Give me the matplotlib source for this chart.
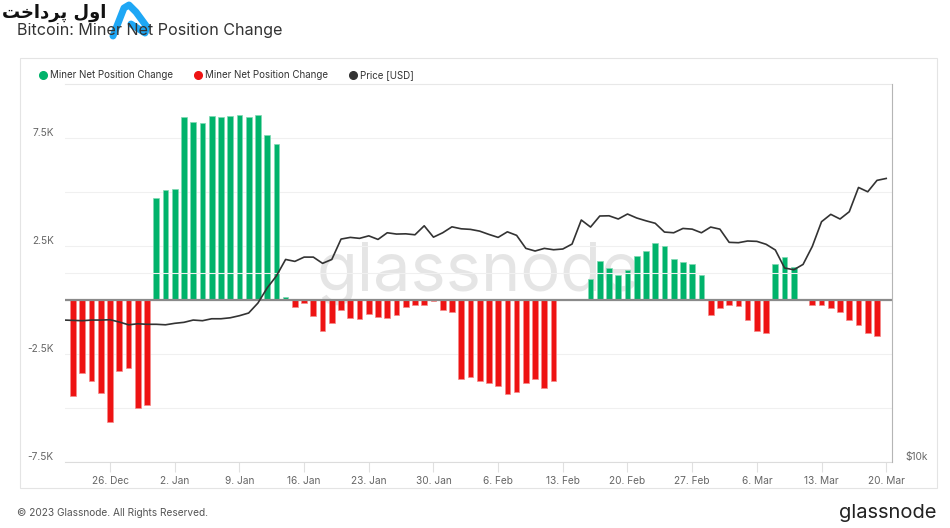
"""Bitcoin: Miner Net Position Change (glassnode style)."""

import pandas as pd
import matplotlib.pyplot as plt
import matplotlib.dates as mdates
from matplotlib.lines import Line2D
from matplotlib.patches import Rectangle
from matplotlib.ticker import FixedLocator, NullLocator

plt.rcParams['font.family'] = ['Inter', 'DejaVu Sans']

# daily miner net position change (BTC), starting 22 Dec 2022
net_start = '2022-12-22'
net_change = [
    -4440, -3360, -3750, -4290, -5630, -3270, -3150, -5020, -4860, 4720,
    5080, 5140, 8470, 8260, 8210, 8520, 8470, 8520, 8580, 8470,
    8550, 7620, 7220, 150, -340, -150, -730, -1420, -1050, -450,
    -820, -870, -630, -780, -820, -690, -340, -220, -220, -50,
    -450, -540, -3670, -3550, -3750, -3850, -3960, -4330, -4280, -3820,
    -3660, -4090, -3770, 30, 30, 30, 990, 1810, 1470, 1140,
    1400, 2040, 2250, 2650, 2500, 1900, 1760, 1660, 1140, -710,
    -390, -230, -280, -930, -1420, -1510, 1670, 2000, 1530, 30,
    -250, -250, -360, -560, -930, -1140, -1510, -1650,
]

# daily BTC price (USD), starting 21 Dec 2022
price_start = '2022-12-21'
price = [
    16830, 16810, 16790, 16830, 16830, 16850, 16710, 16540, 16600, 16570,
    16570, 16540, 16630, 16690, 16830, 16790, 16910, 16910, 16970, 17100,
    17270, 17910, 18930, 19780, 21020, 20870, 21200, 21200, 20720, 21020,
    22650, 22790, 22710, 22920, 22620, 23180, 23070, 23090, 23010, 23780,
    22810, 23180, 23690, 23520, 23470, 23320, 23040, 22790, 23260, 22960,
    21890, 21680, 21890, 21780, 21840, 22240, 24290, 23670, 24650, 24670,
    24380, 24830, 24470, 24220, 24000, 23240, 23180, 23550, 23490, 23180,
    23670, 23490, 22380, 22350, 22490, 22460, 22220, 21760, 20370, 20240,
    20640, 22050, 24140, 24800, 24380, 25040, 27370, 26940, 28090, 28290,
]

x_ticks = ['2022-12-26', '2023-01-02', '2023-01-09', '2023-01-16', '2023-01-23',
           '2023-01-30', '2023-02-06', '2023-02-13', '2023-02-20', '2023-02-27',
           '2023-03-06', '2023-03-13', '2023-03-20']
y_ticks = [-7500, -5000, -2500, 0, 2500, 5000, 7500]
y_labels = ['-7.5K', '', '-2.5K', '', '2.5K', '', '7.5K']

GREEN = '#00b36b'
RED = '#ee1313'
GRID = '#f0f0f0'
TICK_TXT = '#666666'

net_dates = pd.date_range(net_start, periods=len(net_change), freq='D')
price_dates = pd.date_range(price_start, periods=len(price), freq='D')
pos = [v if v > 0 else 0 for v in net_change]
neg = [v if v < 0 else 0 for v in net_change]

fig = plt.figure(figsize=(9.5, 5.28), dpi=100)
W, H = 950, 528

# outer frame of the chart card
fig.add_artist(Rectangle((20 / W, 1 - 488 / H), 917 / W, 430 / H, transform=fig.transFigure,
                         fill=False, edgecolor='#e4e4e4', lw=0.8))

ax = fig.add_axes([65 / W, 1 - 462 / H, (892 - 65) / W, (462 - 84) / H])
ax.bar(net_dates, pos, width=0.62, color=GREEN, edgecolor='#7fd9b3', lw=0.5, zorder=2)
ax.bar(net_dates, neg, width=0.62, color=RED, edgecolor='#f58a8a', lw=0.5, zorder=2)
ax.axhline(0, color='#8a8a8a', lw=1.6, zorder=3)

ax.set_ylim(-7500, 10000)
ax.set_xlim(pd.Timestamp('2022-12-21 03:00'), pd.Timestamp('2023-03-20 15:00'))
ax.yaxis.set_major_locator(FixedLocator(y_ticks))
ax.set_yticklabels(y_labels)
ax.set_xticks(pd.to_datetime(x_ticks))
ax.xaxis.set_major_formatter(mdates.DateFormatter('%-d. %b'))
ax.grid(axis='y', color=GRID, lw=0.8, zorder=0)
ax.tick_params(axis='y', length=0, labelsize=7.3, labelcolor=TICK_TXT, pad=8)
ax.tick_params(axis='x', length=7, color='#e0e0e0', labelsize=7.3, labelcolor=TICK_TXT, pad=3)
for s in ['left', 'right']:
    ax.spines[s].set_visible(False)
ax.spines['top'].set_color('#e8e8e8')
ax.spines['bottom'].set_color('#dcdcdc')
for lab in ax.get_yticklabels():
    lab.set_verticalalignment('bottom')

ax.text(0.5, 0.5, 'glassnode', transform=ax.transAxes, ha='center', va='center',
        fontsize=48, color='#e5e5e5', zorder=1)

# price on a log axis
ax2 = ax.twinx()
ax2.plot(price_dates, price, color='#333333', lw=1.2, zorder=4)
ax2.set_yscale('log')
ax2.set_ylim(10000, 40000)
ax2.yaxis.set_major_locator(FixedLocator([10000, 20000]))
ax2.yaxis.set_minor_locator(NullLocator())
ax2.set_yticklabels(['$10k', ''])
ax2.grid(axis='y', color=GRID, lw=0.8)
ax2.tick_params(axis='y', length=0, labelsize=7.3, labelcolor=TICK_TXT, pad=10)
for lab in ax2.get_yticklabels():
    lab.set_verticalalignment('bottom')
for s in ['left', 'top', 'bottom']:
    ax2.spines[s].set_visible(False)
ax2.spines['right'].set_color('#b5b5b5')
ax.set_zorder(1)
ax2.set_zorder(2)
ax2.patch.set_visible(False)

# legend
handles = [
    Line2D([], [], marker='o', ls='', color=GREEN, markersize=5.5),
    Line2D([], [], marker='o', ls='', color=RED, markersize=5.5),
    Line2D([], [], marker='o', ls='', color='#333333', markersize=5.5),
]
fig.legend(handles, ['Miner Net Position Change', 'Miner Net Position Change', 'Price [USD]'],
           loc='center left', bbox_to_anchor=(28 / W, 1 - 75 / H), ncol=3, frameon=False,
           fontsize=7.0, handlelength=1.3, handletextpad=0.05, columnspacing=1.95,
           labelcolor='#333333')

# titles and footer
fig.text(17 / W, 1 - 30 / H, 'Bitcoin: Miner Net Position Change', fontsize=11.6,
         color='#333333', va='center')
fig.text(17 / W, 1 - 513 / H, '© 2023 Glassnode. All Rights Reserved.', fontsize=7.3,
         color='#555555', va='center')
fig.text(937 / W, 1 - 513 / H, 'glassnode', fontsize=14.5, color='#222222', va='center', ha='right')

# re-poster logo in the top left corner
fig.text(2 / W, 1 - 13 / H, '\ufe96\ufea7\ufe8d\ufea9\ufeae\ufb58 \ufedd\ufeed\ufe8d', fontsize=13,
         fontweight='bold', color='#111111', va='center', family=['DejaVu Sans'])
logo = Line2D([113 / W, 124 / W, 129 / W, 136 / W, 147 / W, 145 / W, 131 / W],
              [1 - 36 / H, 1 - 8 / H, 1 - 5 / H, 1 - 12 / H, 1 - 27 / H, 1 - 33 / H, 1 - 24 / H],
              transform=fig.transFigure, color='#1ea7f5', lw=5, solid_capstyle='round',
              solid_joinstyle='round')
fig.add_artist(logo)

fig.savefig('out.png', dpi=100)
